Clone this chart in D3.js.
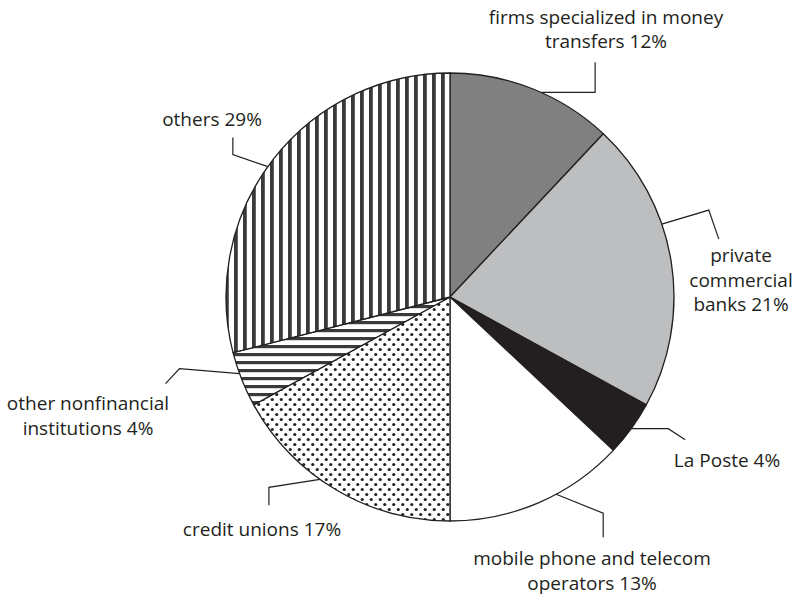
<!DOCTYPE html>
<html><head><meta charset="utf-8">
<script src="https://cdn.jsdelivr.net/npm/d3@7"></script>
<style>body{margin:0;background:#fff}svg{display:block}</style>
</head><body>
<svg id="c" width="795" height="598"></svg>
<script>
// Data
const categories = ["firms specialized in money transfers","private commercial banks","La Poste","mobile phone and telecom operators","credit unions","other nonfinancial institutions","others"];
const shares = [12, 21, 4, 13, 17, 4, 29];
const labelLines = [
  ["firms specialized in money","transfers 12%"],
  ["private","commercial","banks 21%"],
  ["La Poste 4%"],
  ["mobile phone and telecom","operators 13%"],
  ["credit unions 17%"],
  ["other nonfinancial","institutions 4%"],
  ["others 29%"]
];
const fills = ["#808080","#bdbec0","#231f20","#ffffff","url(#dots)","url(#hstripes)","url(#vstripes)"];

// Layout
const cx = 450, cy = 297, R = 224;
const anchorDeg = [24, 71, 126, 151.7, 215.5, 250, 305.6];
const leaderRel = [
  [[54,0],[54,-30]],
  [[47,-14],[57,15]],
  [[37,0],[54,11]],
  [[47,19],[47,43]],
  [[-51,8],[-51,26]],
  [[-60,-5],[-74,10]],
  [[-35,-12],[-35,-29]]
];
const labelPos = [[606,23.5],[741,262],[727,467],[592,565],[262,536],[88,410],[212,126]];
const lineH = [24.5,24.5,24,24.5,24,25,24];

const svg = d3.select("#c");
const defs = svg.append("defs");
const vs = defs.append("pattern").attr("id","vstripes").attr("patternUnits","userSpaceOnUse").attr("width",9).attr("height",9);
vs.append("rect").attr("width",9).attr("height",9).attr("fill","#fff");
vs.append("rect").attr("x",0).attr("width",3.8).attr("height",9).attr("fill","#3a3a3a");
const hs = defs.append("pattern").attr("id","hstripes").attr("patternUnits","userSpaceOnUse").attr("width",8).attr("height",8);
hs.append("rect").attr("width",8).attr("height",8).attr("fill","#fff");
hs.append("rect").attr("y",0).attr("width",8).attr("height",3.2).attr("fill","#3a3a3a");
const ds = defs.append("pattern").attr("id","dots").attr("patternUnits","userSpaceOnUse").attr("width",9).attr("height",10);
ds.append("rect").attr("width",9).attr("height",10).attr("fill","#fff");
ds.append("circle").attr("cx",2.25).attr("cy",2.5).attr("r",1.6).attr("fill","#231f20");
ds.append("circle").attr("cx",6.75).attr("cy",7.5).attr("r",1.6).attr("fill","#231f20");

const pie = d3.pie().sort(null).value(d=>d).startAngle(0).endAngle(2*Math.PI);
const arc = d3.arc().innerRadius(0).outerRadius(R);
const g = svg.append("g").attr("transform",`translate(${cx},${cy})`);
g.selectAll("path.slice").data(pie(shares)).join("path")
  .attr("class","slice")
  .attr("d",arc)
  .attr("fill",(d,i)=>fills[i])
  .attr("stroke","#231f20").attr("stroke-width",1.3).attr("stroke-linejoin","round");

// leaders
const line = d3.line();
anchorDeg.forEach((a,i)=>{
  const rad = a*Math.PI/180;
  const x0 = cx + R*Math.sin(rad), y0 = cy - R*Math.cos(rad);
  const pts = [[x0,y0]].concat(leaderRel[i].map(p=>[x0+p[0], y0+p[1]]));
  svg.append("path").attr("d",line(pts)).attr("fill","none").attr("stroke","#231f20").attr("stroke-width",1.2);
});

// labels
labelLines.forEach((lines,i)=>{
  const t = svg.append("text").attr("text-anchor","middle")
    .attr("font-family","'Open Sans', sans-serif").attr("font-size",19).attr("fill","#231f20");
  lines.forEach((s,j)=>{
    t.append("tspan").attr("x",labelPos[i][0]).attr("y",labelPos[i][1]+j*lineH[i]).text(s);
  });
});
</script>
</body></html>
